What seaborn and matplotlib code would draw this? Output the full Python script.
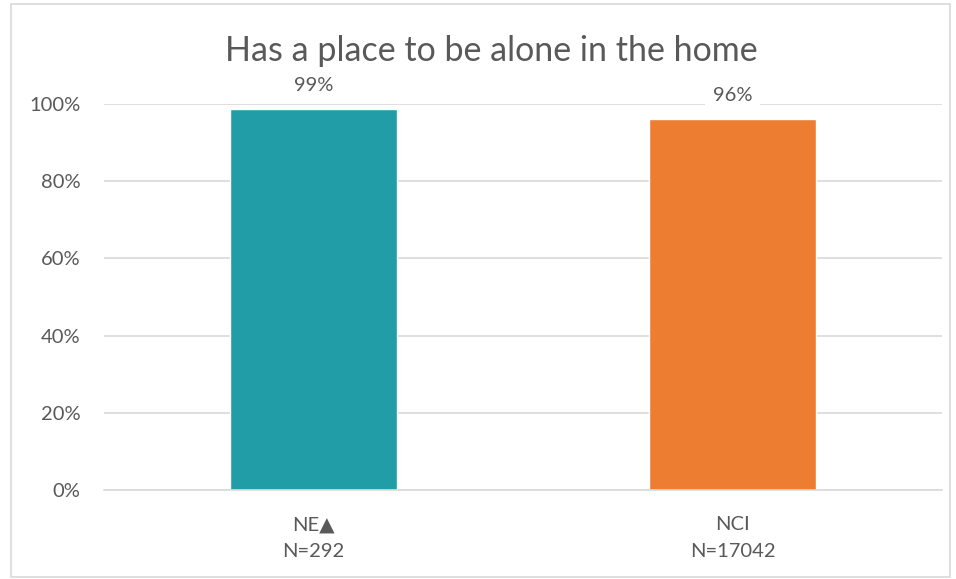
import matplotlib
matplotlib.use("Agg")
import matplotlib.pyplot as plt
import matplotlib.patches as mpatches
from matplotlib.ticker import PercentFormatter
import pandas as pd
import seaborn as sns

# data
groups = ['NE▲\nN=292', 'NCI\nN=17042']
values = [98.7, 96.1]
labels = ['99%', '96%']
colors = ['#209DA6', '#ED7D31']

sns.set_style('white')
plt.rcParams['font.family'] = ['Lato', 'DejaVu Sans']
txt = '#595959'

df = pd.DataFrame({'group': groups, 'value': values})

fig = plt.figure(figsize=(9.56, 5.79), dpi=100)
ax = fig.add_axes([0.1088, 0.1537, 0.8766, 0.6667])
sns.barplot(data=df, x='group', y='value', hue='group', palette=colors,
            width=0.4, legend=False, saturation=1, ax=ax)

ax.set_ylim(0, 100)
ax.set_yticks(range(0, 101, 20))
ax.yaxis.set_major_formatter(PercentFormatter(decimals=0))
ax.grid(axis='y', color='#d9d9d9', lw=1.2)
ax.set_axisbelow(True)
for s in ['top', 'right', 'left']:
    ax.spines[s].set_visible(False)
ax.spines['bottom'].set_color('#d9d9d9')
ax.spines['bottom'].set_linewidth(1.2)
ax.tick_params(axis='both', length=0, labelsize=14.5, colors=txt)
ax.tick_params(axis='y', pad=17)
ax.tick_params(axis='x', pad=19)
for t in ax.get_xticklabels():
    t.set_linespacing(1.7)
ax.set_xlabel('')
ax.set_ylabel('')

for i, (v, lab) in enumerate(zip(values, labels)):
    ax.annotate(lab, (i, v), xytext=(0, 17), textcoords='offset points',
                ha='center', va='center', fontsize=14.5, color=txt,
                bbox=dict(boxstyle='square,pad=0.4', fc='white', ec='none'))

fig.text(0.514, 0.912, 'Has a place to be alone in the home',
         ha='center', va='center', fontsize=24.5, color=txt)

# chart border
fig.patches.append(mpatches.Rectangle((0.011, 0.003), 0.983, 0.99, transform=fig.transFigure,
                                      fill=False, ec='#d9d9d9', lw=1.2))

fig.savefig('out.png', dpi=100)
